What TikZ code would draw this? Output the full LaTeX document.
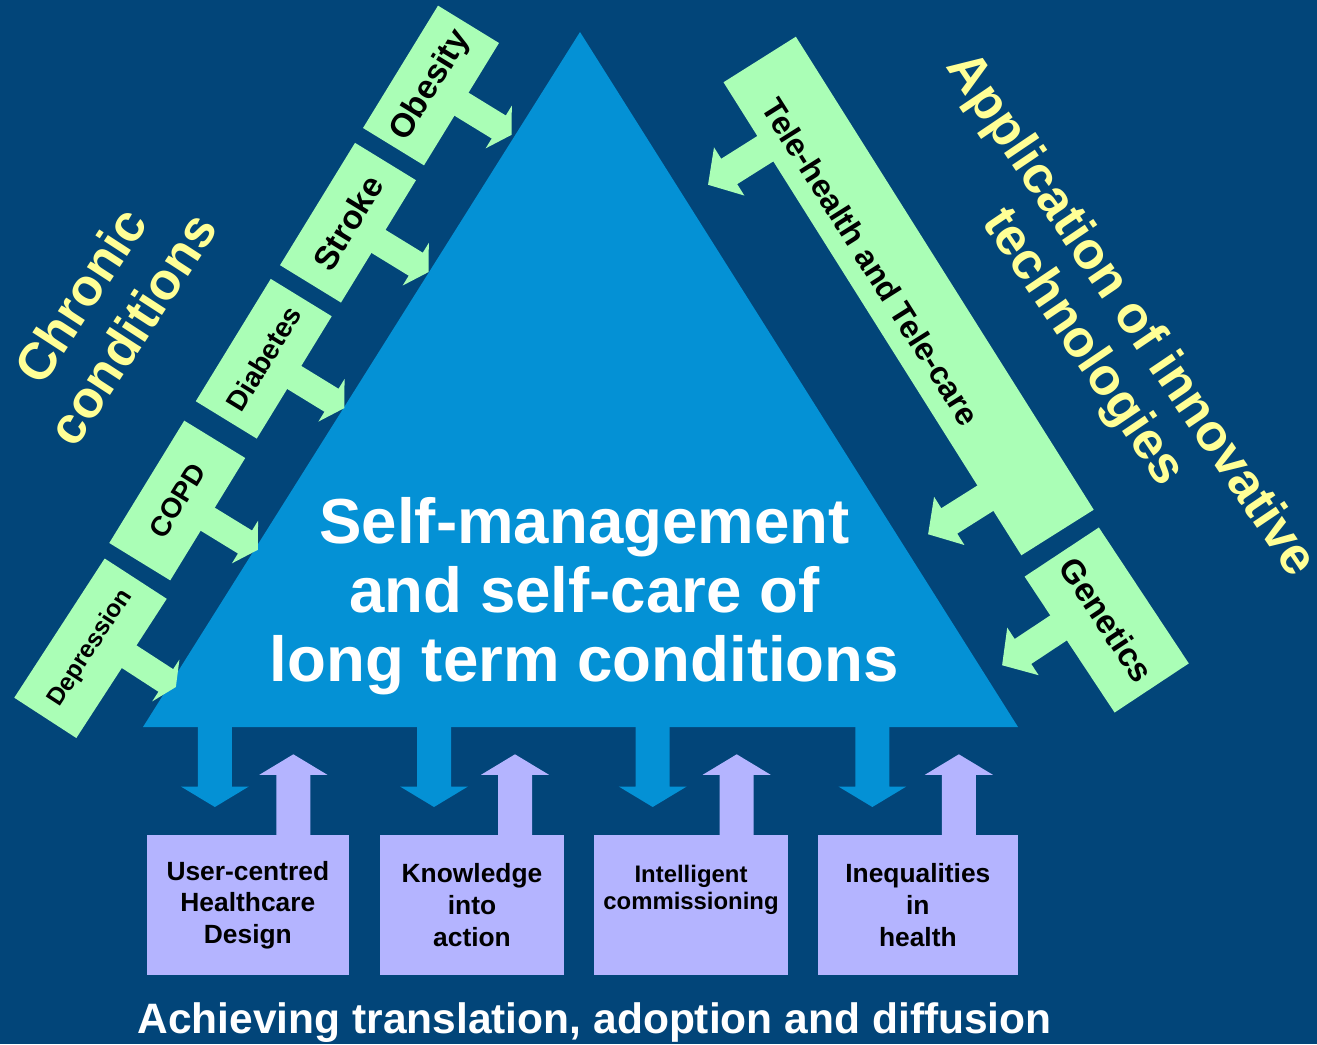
\documentclass[tikz,border=0pt]{standalone}
\usepackage{fontspec}
\setmainfont{Liberation Sans}
\usetikzlibrary{calc}

\definecolor{bgblue}{RGB}{2,69,121}
\definecolor{triblue}{RGB}{4,145,213}
\definecolor{gbox}{RGB}{170,254,182}
\definecolor{lbox}{RGB}{180,180,255}
\definecolor{ytext}{RGB}{255,255,150}

\tikzset{
  illness/.style={fill=gbox, inner sep=0pt, minimum width=1.435cm, minimum height=0.715cm, rotate=58.5},
  tech/.style={fill=gbox, inner sep=0pt, minimum height=0.855cm, rotate=-57.8},
  theme/.style={fill=lbox, inner sep=0pt, minimum height=1.4cm, align=center,
    font=\bfseries\fontsize{7.5pt}{9pt}\selectfont},
  headline/.style={text=ytext, align=center, font=\bfseries\fontsize{14.8pt}{17.6pt}\selectfont},
  pics/blockarrow/.style args={#1/#2/#3/#4}{code={
    \fill[pic actions] (-0.03,#1) -- (#2,#1) -- (#2,#3) -- (#4,0) -- (#2,-#3) -- (#2,-#1) -- (-0.03,-#1) -- cycle;
  }},
}

\begin{document}
\begin{tikzpicture}
\useasboundingbox (0,0) rectangle (13.17,10.44);
\fill[bgblue] (0,0) rectangle (13.17,10.44);

% central triangle
\coordinate (apex) at (5.80,10.12);
\coordinate (bl) at (1.43,3.17);
\coordinate (br) at (10.18,3.17);
\fill[triblue] (bl) -- (apex) -- (br) -- cycle;
\node[text=white, align=center, font=\bfseries\fontsize{18.1pt}{19.6pt}\selectfont] (selfcare) at (5.845,4.48)
  {Self-management\\and self-care of\\long term conditions};

% bottom themes
\node[theme, minimum width=2.023cm] (user) at (2.4785,1.39) {User-centred\\Healthcare\\Design};
\node[theme, minimum width=1.84cm] (know) at (4.72,1.39) {Knowledge\\into\\action};
\node[theme, minimum width=1.94cm, text depth=0.35cm, font=\bfseries\fontsize{6.8pt}{7.8pt}\selectfont] (commis) at (6.91,1.39) {Intelligent\\commissioning};
\node[theme, minimum width=1.997cm] (ineq) at (9.1785,1.39) {Inequalities\\in\\health};

\pic[fill=triblue, rotate=-90] at ($(user.north |- bl)+(-0.33,0)$) {blockarrow=0.17/0.595/0.34/0.80};
\pic[fill=triblue, rotate=-90] at ($(know.north |- bl)+(-0.38,0)$) {blockarrow=0.17/0.595/0.34/0.80};
\pic[fill=triblue, rotate=-90] at ($(commis.north |- bl)+(-0.383,0)$) {blockarrow=0.17/0.595/0.34/0.80};
\pic[fill=triblue, rotate=-90] at ($(ineq.north |- bl)+(-0.455,0)$) {blockarrow=0.17/0.595/0.34/0.80};
\pic[fill=lbox, rotate=90] at ($(user.north)+(0.455,0)$) {blockarrow=0.17/0.595/0.34/0.80};
\pic[fill=lbox, rotate=90] at ($(know.north)+(0.43,0)$) {blockarrow=0.17/0.595/0.34/0.80};
\pic[fill=lbox, rotate=90] at ($(commis.north)+(0.457,0)$) {blockarrow=0.17/0.595/0.34/0.80};
\pic[fill=lbox, rotate=90] at ($(ineq.north)+(0.41,0)$) {blockarrow=0.17/0.595/0.34/0.80};

% chronic conditions
\node[illness, font=\bfseries\fontsize{9.5pt}{11pt}\selectfont] (obesity) at (4.31,9.585) {Obesity};
\node[illness, font=\bfseries\fontsize{9.5pt}{11pt}\selectfont] (stroke) at (3.48,8.213) {Stroke};
\node[illness, font=\bfseries\fontsize{8pt}{10pt}\selectfont] (diabetes) at (2.6375,6.8525) {Diabetes};
\node[illness, font=\bfseries\fontsize{8pt}{10pt}\selectfont] (copd) at (1.7725,5.435) {COPD};
\node[illness, minimum width=1.66cm, minimum height=0.74cm, rotate=-1.5, font=\bfseries\fontsize{7pt}{9pt}\selectfont] (depression) at (0.905,3.9575) {Depression};

\pic[fill=gbox, rotate=-31.5] at (obesity.south) {blockarrow=0.135/0.43/0.25/0.58};
\pic[fill=gbox, rotate=-31.5] at (stroke.south) {blockarrow=0.135/0.43/0.25/0.58};
\pic[fill=gbox, rotate=-31.5] at (diabetes.south) {blockarrow=0.135/0.43/0.25/0.58};
\pic[fill=gbox, rotate=-31.5] at (copd.south) {blockarrow=0.135/0.43/0.25/0.58};
\pic[fill=gbox, rotate=-33] at ($(depression.south)!0.14cm!(depression.south east)$) {blockarrow=0.135/0.43/0.25/0.55};

\node[headline, rotate=57] (chronic) at (1.06,7.32) {Chronic\\conditions};

% technologies
\node[tech, minimum width=5.59cm] (tele) at (9.086,7.48) {};
\node[rotate=-57.8, font=\bfseries\fontsize{9.1pt}{11pt}\selectfont] (teletxt) at (8.71,7.82) {Tele-health and Tele-care};
\node[tech, minimum width=1.63cm, minimum height=0.89cm, rotate=1.3, font=\bfseries\fontsize{9.5pt}{11pt}\selectfont] (genetics) at (11.067,4.24) {Genetics};

\pic[fill=gbox, rotate=-147.8] at ($(tele.south)!2.01cm!(tele.south west)$) {blockarrow=0.15/0.42/0.285/0.67};
\pic[fill=gbox, rotate=-147.8] at ($(tele.south)!2.12cm!(tele.south east)$) {blockarrow=0.15/0.42/0.285/0.67};
\pic[fill=gbox, rotate=-146.5] at ($(genetics.south)!0.2cm!(genetics.south west)$) {blockarrow=0.15/0.42/0.285/0.67};

\node[headline, rotate=-56, font=\bfseries\fontsize{14.8pt}{16.4pt}\selectfont] (applic) at (11.06,7.12) {Application of innovative\\technologies};

\node[text=white, anchor=base, font=\bfseries\fontsize{12.1pt}{14pt}\selectfont] (achieve) at (5.945,0.11)
  {Achieving translation, adoption and diffusion};
\end{tikzpicture}
\end{document}
